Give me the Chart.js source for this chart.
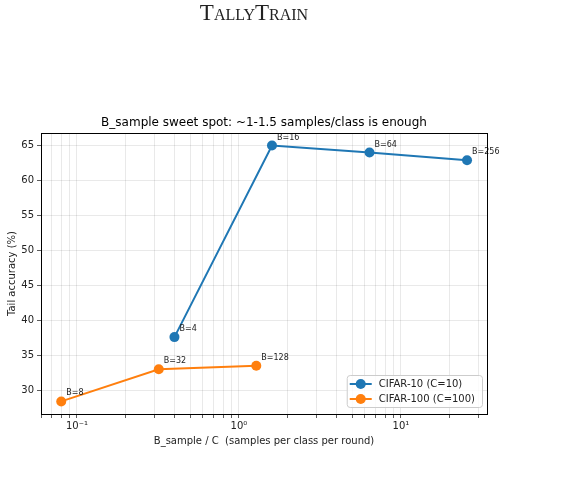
<!DOCTYPE html>
<html>
<head>
<meta charset="utf-8">
<script src="https://cdn.jsdelivr.net/npm/chart.js@4"></script>
<style>
  body { margin: 0; background: #fff; }
  #wrap { position: relative; width: 578px; height: 497px; overflow: hidden; }
  #brand {
    position: absolute; top: 0px; left: 0; width: 508px; text-align: center;
    font-family: 'Liberation Serif', serif; font-variant: small-caps;
    font-size: 23px; color: #222;
  }
  canvas { position: absolute; left: 0; top: 0; }
</style>
</head>
<body>
<div id="wrap">
  <canvas id="chart" width="578" height="497"></canvas>
  <div id="brand">TallyTrain</div>
</div>
<script>
// CIFAR-10 (C=10): B_sample / C and tail accuracy
const cifar10Ratio = [0.4, 1.6, 6.4, 25.6];
const cifar10Acc = [37.6, 65.0, 64.0, 62.9];
const cifar10Labels = ['B=4', 'B=16', 'B=64', 'B=256'];

// CIFAR-100 (C=100)
const cifar100Ratio = [0.08, 0.32, 1.28];
const cifar100Acc = [28.4, 33.0, 33.5];
const cifar100Labels = ['B=8', 'B=32', 'B=128'];

// axis ticks
const xTicks = [0.06, 0.07, 0.08, 0.09, 0.1, 0.2, 0.3, 0.4, 0.5, 0.6, 0.7, 0.8, 0.9,
  1, 2, 3, 4, 5, 6, 7, 8, 9, 10, 20, 30];
const xTickLabels = { 0.1: '10\u207B\u00B9', 1: '10\u2070', 10: '10\u00B9' };
const yTicks = [30, 35, 40, 45, 50, 55, 60, 65];

const chartTitle = 'B_sample sweet spot: ~1-1.5 samples/class is enough';

const BLUE = '#1f77b4';
const ORANGE = '#ff7f0e';
const FONT = "'DejaVu Sans', sans-serif";
const GRID = 'rgba(0,0,0,0.11)';

function toPoints(xs, ys) {
  return xs.map((x, i) => ({ x: x, y: ys[i] }));
}

// B=... labels next to each point
const pointLabels = {
  id: 'pointLabels',
  afterDatasetsDraw(chart) {
    const ctx = chart.ctx;
    const xs = chart.scales.x;
    const ys = chart.scales.y;
    const sets = [[cifar10Ratio, cifar10Acc, cifar10Labels], [cifar100Ratio, cifar100Acc, cifar100Labels]];
    ctx.save();
    ctx.font = '8px ' + FONT;
    ctx.fillStyle = '#222';
    ctx.textAlign = 'left';
    ctx.textBaseline = 'middle';
    sets.forEach(([rx, acc, lab]) => {
      rx.forEach((v, i) => {
        ctx.fillText(lab[i], xs.getPixelForValue(v) + 5, ys.getPixelForValue(acc[i]) - 8);
      });
    });
    ctx.restore();
  }
};

// title over the axes, box around the axes, legend in the lower right corner
const frameAndLegend = {
  id: 'frameAndLegend',
  afterDraw(chart) {
    const ctx = chart.ctx;
    const a = chart.chartArea;
    ctx.save();

    ctx.font = '12px ' + FONT;
    ctx.fillStyle = '#000';
    ctx.textAlign = 'center';
    ctx.textBaseline = 'middle';
    ctx.fillText(chartTitle, (a.left + a.right) / 2, a.top - 10);

    ctx.strokeStyle = '#000';
    ctx.lineWidth = 1;
    ctx.strokeRect(Math.round(a.left) + 0.5, Math.round(a.top) + 0.5,
      Math.round(a.right - a.left), Math.round(a.bottom - a.top));

    const items = chart.data.datasets;
    ctx.font = '10px ' + FONT;
    const textW = Math.max(...items.map(d => ctx.measureText(d.label).width));
    const w = 4 + 22 + 8 + textW + 5;
    const h = 32;
    const right = a.right - 5;
    const bottom = a.bottom - 7;
    const left = right - w;
    const top = bottom - h;

    ctx.beginPath();
    ctx.roundRect(left + 0.5, top + 0.5, w, h, 3);
    ctx.fillStyle = 'rgba(255,255,255,0.8)';
    ctx.fill();
    ctx.strokeStyle = '#cccccc';
    ctx.stroke();

    items.forEach((d, i) => {
      const y = top + 9 + i * 15;
      ctx.strokeStyle = d.borderColor;
      ctx.lineWidth = 2;
      ctx.beginPath();
      ctx.moveTo(left + 3, y);
      ctx.lineTo(left + 25, y);
      ctx.stroke();
      ctx.fillStyle = d.borderColor;
      ctx.beginPath();
      ctx.arc(left + 14, y, 5, 0, Math.PI * 2);
      ctx.fill();
      ctx.fillStyle = '#222';
      ctx.textAlign = 'left';
      ctx.textBaseline = 'middle';
      ctx.fillText(d.label, left + 32, y + 0.5);
    });
    ctx.restore();
  }
};

const chart = new Chart(document.getElementById('chart'), {
  type: 'line',
  data: {
    datasets: [
      {
        label: 'CIFAR-10 (C=10)',
        data: toPoints(cifar10Ratio, cifar10Acc),
        borderColor: BLUE,
        backgroundColor: BLUE,
        pointBackgroundColor: BLUE,
        borderWidth: 2,
        pointRadius: 5,
        pointBorderWidth: 0,
        tension: 0
      },
      {
        label: 'CIFAR-100 (C=100)',
        data: toPoints(cifar100Ratio, cifar100Acc),
        borderColor: ORANGE,
        backgroundColor: ORANGE,
        pointBackgroundColor: ORANGE,
        borderWidth: 2,
        pointRadius: 5,
        pointBorderWidth: 0,
        tension: 0
      }
    ]
  },
  options: {
    responsive: false,
    devicePixelRatio: 1,
    animation: false,
    layout: { padding: { top: 133, left: 0, right: 91, bottom: 50 } },
    plugins: {
      legend: { display: false },
      tooltip: { enabled: false },
      title: { display: false }
    },
    scales: {
      x: {
        type: 'logarithmic',
        min: 0.06,
        max: 34,
        afterBuildTicks: s => { s.ticks = xTicks.map(v => ({ value: v })); },
        afterFit: s => { s.height = 33; },
        grid: { color: GRID, lineWidth: 0.8, tickColor: '#333', tickLength: 4, drawTicks: true },
        border: { display: true, color: '#000', width: 1 },
        ticks: {
          autoSkip: false,
          maxRotation: 0,
          padding: 2,
          color: '#222',
          font: { family: FONT, size: 10 },
          callback: v => xTickLabels[v] || ''
        },
        title: {
          display: true,
          text: 'B_sample / C  (samples per class per round)',
          color: '#222',
          font: { family: FONT, size: 10, lineHeight: 1.2 },
          padding: { top: 0, bottom: 0 }
        }
      },
      y: {
        type: 'linear',
        min: 26.6,
        max: 66.8,
        afterBuildTicks: s => { s.ticks = yTicks.map(v => ({ value: v })); },
        afterFit: s => { s.width = 41; },
        grid: { color: GRID, lineWidth: 0.8, tickColor: '#333', tickLength: 4 },
        border: { display: true, color: '#000', width: 1 },
        ticks: {
          padding: 3,
          color: '#222',
          font: { family: FONT, size: 10 }
        },
        title: {
          display: true,
          text: 'Tail accuracy (%)',
          color: '#222',
          font: { family: FONT, size: 10, lineHeight: 1.2 },
          padding: { top: 6, bottom: 0 }
        }
      }
    }
  },
  plugins: [pointLabels, frameAndLegend]
});
</script>
</body>
</html>
